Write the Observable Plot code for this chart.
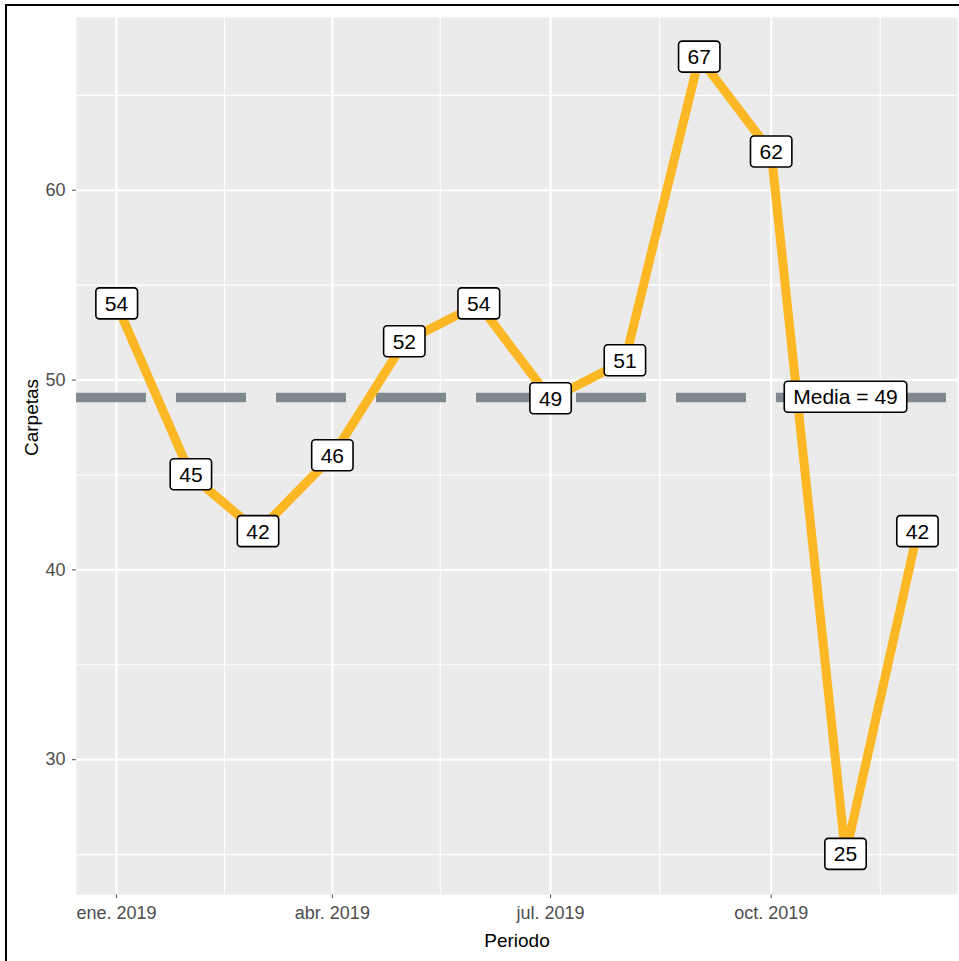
<!DOCTYPE html>
<html><head><meta charset="utf-8">
<script src="https://cdn.jsdelivr.net/npm/d3@7"></script>
<script src="https://cdn.jsdelivr.net/npm/@observablehq/plot@0.6"></script>
<style>
html,body{margin:0;padding:0;background:#fff;}
#wrap{position:relative;width:959px;height:961px;overflow:hidden;}
#frame{position:absolute;left:5px;top:4px;width:2000px;height:2000px;border-left:2px solid #000;border-top:2px solid #000;box-sizing:border-box;pointer-events:none;}
</style></head><body><div id="wrap"><div id="frame"></div></div>
<script>
// ---- data ----
const months = ["2019-01-01","2019-02-01","2019-03-01","2019-04-01","2019-05-01","2019-06-01",
                "2019-07-01","2019-08-01","2019-09-01","2019-10-01","2019-11-01","2019-12-01"];
const values = [54,45,42,46,52,54,49,51,67,62,25,42];
const xTicks = ["2019-01-01","2019-04-01","2019-07-01","2019-10-01"];
const xTickLabels = ["ene. 2019","abr. 2019","jul. 2019","oct. 2019"];
const xMinor = ["2019-02-15","2019-05-16","2019-08-15.5","2019-11-15.5"];
const yTicks = [30,40,50,60];
const yMinor = [25,35,45,55,65];
const meanLabelMonth = "2019-11-01";

const day = 864e5;
const toDate = s => {
  const [y, m, d] = s.split("-");
  return new Date(Date.UTC(+y, +m - 1, 1) + (parseFloat(d) - 1) * day);
};
const data = months.map((m, i) => ({date: toDate(m), v: values[i]}));
const tickDates = xTicks.map(toDate);
const minorDates = xMinor.map(toDate);
const mean = d3.mean(values);
const meanText = `Media = ${Math.round(mean)}`;

const x0 = data[0].date, x1 = data[data.length - 1].date;
const pad = (x1 - x0) * 0.05;

const W=959, H=961, ml=76, mr=2, mt=17, mb=67;
const font = "'Liberation Sans', Arial, sans-serif";

const plot = Plot.plot({
  width: W, height: H,
  marginLeft: ml, marginRight: mr, marginTop: mt, marginBottom: mb,
  style: {background: "transparent", fontFamily: font, fontSize: "18px", color: "#4d4d4d", overflow: "visible"},
  x: {type: "utc", domain: [new Date(+x0 - pad), new Date(+x1 + pad)], ticks: tickDates,
      tickFormat: d => xTickLabels[tickDates.findIndex(t => +t === +d)], tickSize: 4, tickPadding: 8, label: null, line: false},
  y: {domain: [22.9, 69.1], ticks: yTicks, tickSize: 4, tickPadding: 7, label: null, line: false},
  marks: [
    Plot.frame({fill: "#ebebeb", stroke: null}),
    Plot.ruleX(minorDates, {x: d => d, stroke: "#fff", strokeWidth: 1.1}),
    Plot.ruleY(yMinor, {y: d => d, stroke: "#fff", strokeWidth: 1.1}),
    Plot.ruleX(tickDates, {x: d => d, stroke: "#fff", strokeWidth: 2.2}),
    Plot.ruleY(yTicks, {y: d => d, stroke: "#fff", strokeWidth: 2.2}),
    Plot.ruleY([mean], {y: d => d, stroke: "#7f898e", strokeWidth: 9.5, strokeDasharray: "70,30"}),
    Plot.line(data, {x: "date", y: "v", stroke: "#fcb824", strokeWidth: 9, strokeLinejoin: "round", strokeLinecap: "butt"}),
    Plot.text(data, {x: "date", y: "v", text: d => String(d.v), fontSize: 21, fill: "#000"}),
    Plot.text([mean], {x: () => toDate(meanLabelMonth), y: d => d, text: () => meanText, fontSize: 21, fill: "#000"}),
    Plot.text(["Periodo"], {frameAnchor: "bottom", dy: 52, text: d => d, fontSize: 19, fill: "#000"}),
    Plot.text(["Carpetas"], {frameAnchor: "left", dx: -45, rotate: -90, text: d => d, fontSize: 19, fill: "#000"})
  ]
});

document.getElementById("wrap").insertBefore(plot, document.getElementById("frame"));

const labelSet = new Set(values.map(String).concat([meanText]));
const NS = "http://www.w3.org/2000/svg";
Array.from(plot.querySelectorAll("text")).forEach(t => {
  if (!labelSet.has(t.textContent)) return;
  let p = t.parentNode, inAxis = false;
  while (p && p !== plot) {
    const al = p.getAttribute && p.getAttribute("aria-label");
    if (al && /axis|tick/.test(al)) { inAxis = true; break; }
    p = p.parentNode;
  }
  if (inAxis) return;
  const b = t.getBBox();
  const r = document.createElementNS(NS, "rect");
  const cy = b.y + b.height / 2;
  r.setAttribute("x", b.x - 9);
  r.setAttribute("width", b.width + 18);
  r.setAttribute("y", cy - 15.5);
  r.setAttribute("height", 31);
  r.setAttribute("rx", 3.5);
  r.setAttribute("fill", "#fff");
  r.setAttribute("stroke", "#000");
  r.setAttribute("stroke-width", 1.6);
  const tr = t.getAttribute("transform");
  if (tr) r.setAttribute("transform", tr);
  t.parentNode.insertBefore(r, t);
});
</script>
</body></html>
